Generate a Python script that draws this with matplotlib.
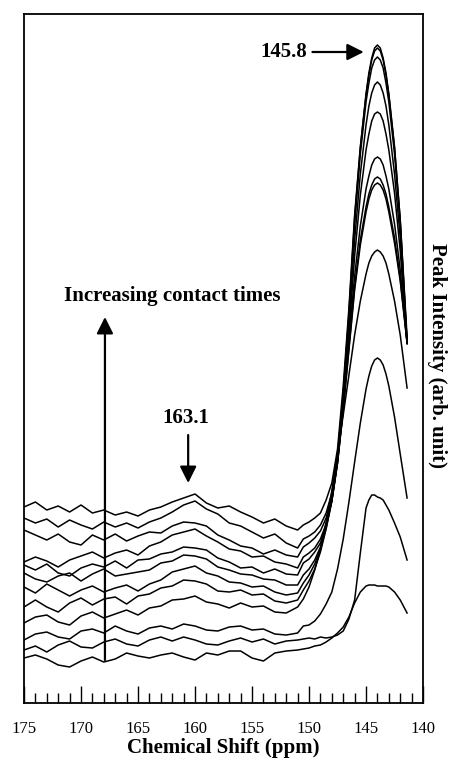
import numpy as np
import matplotlib.pyplot as plt

plt.rcParams['font.family'] = ['Liberation Serif', 'DejaVu Serif']

# chemical shift grid (ppm): coarse on the flat part, finer over the 145.8 peak
ppm_flat = [175, 174, 173, 172, 171, 170, 169, 168, 167, 166, 165, 164, 163,
            162, 161, 160, 159, 158, 157, 156, 155, 154, 153, 152, 151]
ppm_peak = [150.5, 150.0, 149.5, 149.0, 148.5, 148.0, 147.5, 147.0, 146.5, 146.0,
            145.5, 145.0, 144.75, 144.5, 144.25, 144.0, 143.75, 143.5, 143.25,
            143.0, 142.5, 142.0, 141.4]

# spectra, longest contact time first (arb. units)
ct12_flat = [196, 201, 193, 197, 191, 198, 190, 193, 188, 191, 187, 193, 196, 201, 205, 209, 200, 195, 197, 191, 186, 180, 184, 177, 173]
ct12_peak = [178, 181, 185, 190, 203, 220, 254, 317, 395, 488, 556, 609, 630, 645, 655, 658, 655, 645, 630, 609, 556, 483, 366]
ct11_flat = [185, 180, 184, 176, 183, 178, 174, 181, 176, 180, 175, 181, 185, 191, 198, 202, 194, 189, 180, 177, 171, 165, 169, 160, 155]
ct11_peak = [164, 167, 171, 178, 190, 210, 248, 310, 390, 485, 555, 608, 628, 643, 652, 655, 652, 643, 628, 608, 555, 483, 360]
ct10_flat = [173, 168, 163, 169, 161, 158, 168, 163, 169, 162, 167, 171, 170, 177, 181, 180, 177, 168, 163, 157, 155, 149, 153, 148, 146]
ct10_peak = [156, 160, 165, 172, 185, 206, 246, 309, 386, 479, 549, 601, 620, 635, 643, 646, 643, 635, 620, 601, 549, 479, 361]
ct09_flat = [141, 146, 142, 136, 143, 147, 151, 145, 150, 153, 148, 157, 161, 168, 171, 174, 167, 161, 154, 152, 146, 147, 141, 139, 135]
ct09_peak = [146, 150, 155, 164, 179, 203, 242, 300, 378, 463, 529, 578, 597, 610, 618, 621, 618, 610, 597, 578, 529, 465, 359]
ct08_flat = [138, 133, 139, 130, 127, 135, 139, 136, 142, 135, 143, 144, 149, 151, 156, 155, 153, 145, 141, 135, 136, 130, 134, 129, 128]
ct08_peak = [140, 144, 151, 160, 177, 202, 241, 295, 369, 447, 508, 553, 569, 582, 589, 591, 589, 582, 569, 553, 510, 452, 360]
ct07_flat = [130, 124, 121, 127, 130, 122, 129, 134, 127, 129, 131, 133, 140, 142, 148, 147, 144, 136, 133, 129, 128, 124, 123, 118, 118]
ct07_peak = [128, 134, 143, 156, 178, 204, 243, 299, 364, 427, 477, 514, 527, 538, 544, 546, 544, 538, 527, 514, 479, 433, 360]
ct06_flat = [116, 110, 119, 113, 107, 113, 117, 111, 115, 118, 112, 119, 123, 131, 134, 137, 130, 127, 121, 120, 116, 117, 111, 108, 110]
ct06_peak = [120, 128, 139, 154, 175, 202, 240, 293, 355, 416, 463, 496, 509, 518, 524, 526, 524, 518, 509, 496, 465, 424, 361]
ct05_flat = [96, 103, 96, 91, 100, 105, 98, 104, 106, 99, 107, 109, 115, 117, 123, 122, 119, 112, 111, 113, 108, 109, 102, 100, 103]
ct05_peak = [113, 122, 134, 151, 174, 202, 240, 294, 353, 413, 458, 491, 504, 513, 518, 520, 518, 513, 504, 491, 460, 422, 360]
ct04_flat = [80, 86, 88, 81, 78, 87, 91, 85, 89, 93, 88, 95, 97, 103, 104, 107, 101, 99, 95, 100, 96, 97, 91, 90, 96]
ct04_peak = [104, 116, 133, 154, 181, 212, 249, 288, 328, 368, 402, 429, 440, 447, 451, 453, 451, 447, 440, 429, 402, 368, 315]
ct03_flat = [63, 69, 71, 66, 64, 72, 74, 70, 77, 72, 69, 75, 77, 74, 79, 77, 73, 72, 76, 77, 73, 74, 69, 68, 70]
ct03_peak = [77, 78, 82, 89, 99, 111, 134, 164, 201, 241, 280, 314, 327, 337, 343, 345, 343, 338, 329, 317, 286, 249, 205]
ct02_flat = [53, 57, 51, 58, 62, 56, 55, 61, 64, 59, 57, 63, 66, 62, 66, 63, 59, 58, 62, 65, 61, 64, 59, 62, 63]
ct02_peak = [64, 65, 64, 66, 65, 66, 68, 72, 84, 103, 150, 195, 203, 208, 208, 206, 205, 203, 198, 193, 180, 166, 143]
ct01_flat = [45, 48, 44, 38, 36, 42, 46, 41, 44, 50, 47, 45, 48, 50, 46, 43, 50, 48, 52, 52, 45, 42, 50, 52, 53]
ct01_peak = [54, 55, 57, 58, 61, 65, 70, 76, 86, 100, 111, 117, 118, 118, 118, 117, 117, 117, 117, 116, 111, 103, 90]

spectra = [(ct12_flat, ct12_peak), (ct11_flat, ct11_peak), (ct10_flat, ct10_peak),
           (ct09_flat, ct09_peak), (ct08_flat, ct08_peak), (ct07_flat, ct07_peak),
           (ct06_flat, ct06_peak), (ct05_flat, ct05_peak), (ct04_flat, ct04_peak),
           (ct03_flat, ct03_peak), (ct02_flat, ct02_peak), (ct01_flat, ct01_peak)]

x_major = [175, 170, 165, 160, 155, 150, 145, 140]

fig = plt.figure(figsize=(4.51, 7.61), dpi=100)
ax = fig.add_axes([0.0532, 0.0762, 0.8848, 0.9054])

x = np.array(ppm_flat + ppm_peak, dtype=float)
for flat, peak in spectra:
    ax.plot(x, flat + peak, color='black', lw=1.1)

ax.set_xlim(175, 140)
ax.set_ylim(0, 689)
ax.set_xticks(x_major)
ax.set_xticks(np.arange(141, 175), minor=True)
ax.set_yticks([])
ax.tick_params(axis='x', which='major', direction='in', length=12, width=1.0,
               labelsize=12, pad=13, top=False)
ax.tick_params(axis='x', which='minor', direction='in', length=7.5, width=1.0, top=False)
for sp in ax.spines.values():
    sp.set_linewidth(1.3)

ax.set_xlabel('Chemical Shift (ppm)', fontsize=15, fontweight='bold', labelpad=1)
ax.text(1.035, 0.505, 'Peak Intensity (arb. unit)', transform=ax.transAxes,
        rotation=270, ha='center', va='center', fontsize=15, fontweight='bold')

head = dict(arrowstyle='-|>,head_length=1.0,head_width=0.5', color='black',
            lw=1.6, shrinkA=0, shrinkB=0)

# 145.8 label with arrow to the main peak
ax.text(152.2, 651, '145.8', fontsize=15, fontweight='bold', ha='center', va='center')
ax.annotate('', xy=(145.2, 651), xytext=(149.7, 651), arrowprops=head)

# 163.1 label with arrow down to the shoulder
ax.text(160.8, 285, '163.1', fontsize=15, fontweight='bold', ha='center', va='center')
ax.annotate('', xy=(160.6, 220), xytext=(160.6, 268), arrowprops=head)

# contact time arrow
ax.text(162.0, 407, 'Increasing contact times', fontsize=15, fontweight='bold',
        ha='center', va='center')
ax.annotate('', xy=(167.9, 386), xytext=(167.9, 43), arrowprops=head)

fig.savefig('out.png', dpi=100)
